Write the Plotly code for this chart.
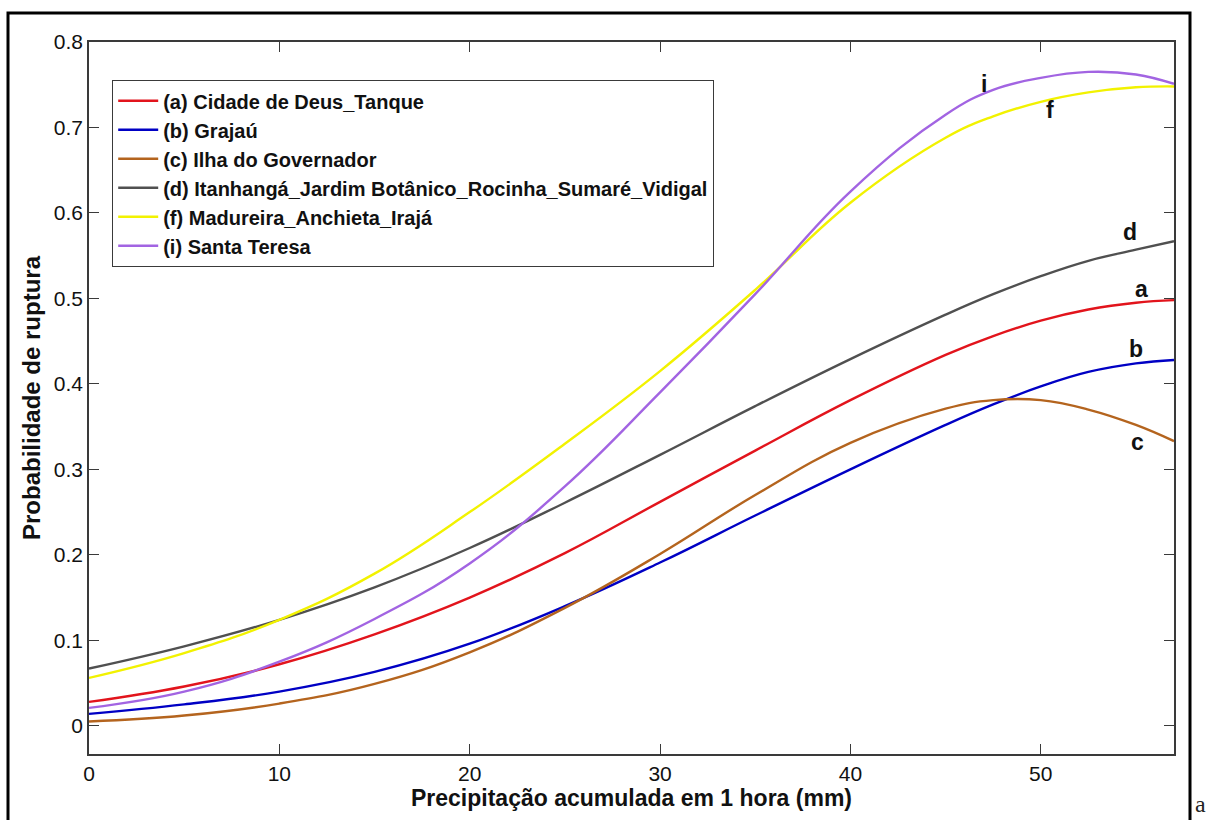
import plotly.graph_objects as go

# Precipitação acumulada (mm) at which each curve is sampled
precip = [0, 5, 10, 15, 20, 25, 30, 35, 40, 45, 47.5, 50, 52.5, 55, 57]

prob_a = [0.028, 0.046, 0.072, 0.107, 0.150, 0.202, 0.262, 0.322, 0.381, 0.434, 0.456, 0.474, 0.487, 0.495, 0.498]
prob_b = [0.014, 0.025, 0.040, 0.063, 0.096, 0.140, 0.191, 0.246, 0.300, 0.352, 0.376, 0.397, 0.414, 0.424, 0.428]
prob_c = [0.005, 0.012, 0.026, 0.049, 0.086, 0.138, 0.201, 0.270, 0.331, 0.371, 0.381, 0.381, 0.370, 0.352, 0.333]
prob_d = [0.067, 0.093, 0.124, 0.162, 0.208, 0.261, 0.317, 0.374, 0.429, 0.481, 0.505, 0.526, 0.544, 0.557, 0.567]
prob_f = [0.056, 0.085, 0.124, 0.178, 0.250, 0.330, 0.415, 0.510, 0.612, 0.688, 0.713, 0.730, 0.741, 0.747, 0.748]
prob_i = [0.021, 0.040, 0.075, 0.125, 0.190, 0.280, 0.390, 0.505, 0.625, 0.715, 0.744, 0.758, 0.765, 0.762, 0.751]

series_names = [
    "(a) Cidade de Deus_Tanque",
    "(b) Grajaú",
    "(c) Ilha do Governador",
    "(d) Itanhangá_Jardim Botânico_Rocinha_Sumaré_Vidigal",
    "(f) Madureira_Anchieta_Irajá",
    "(i) Santa Teresa",
]
series_values = [prob_a, prob_b, prob_c, prob_d, prob_f, prob_i]
series_colors = ["#e2141c", "#0000c4", "#b4641e", "#505050", "#f2f200", "#a264e2"]

# curve tags placed next to the right-hand end of each line
tag_text = ["i", "f", "d", "a", "b", "c"]
tag_x = [47.0, 50.5, 54.7, 55.3, 55.0, 55.1]
tag_y = [0.751, 0.720, 0.578, 0.511, 0.441, 0.332]

x_ticks = [0, 10, 20, 30, 40, 50]
y_ticks = [0, 0.1, 0.2, 0.3, 0.4, 0.5, 0.6, 0.7, 0.8]
y_tick_text = ["0", "0.1", "0.2", "0.3", "0.4", "0.5", "0.6", "0.7", "0.8"]

W, H = 1208, 820
L, R, T, B = 89, 34, 42, 66

fig = go.Figure()
for name, vals, col in zip(series_names, series_values, series_colors):
    fig.add_trace(go.Scatter(
        x=precip, y=vals, name=name, mode="lines",
        line=dict(color=col, width=2.4, shape="spline", smoothing=1.2),
    ))

for t, tx, ty in zip(tag_text, tag_x, tag_y):
    fig.add_annotation(
        x=tx, y=ty, xref="x", yref="y", text=t, showarrow=False,
        font=dict(family="Liberation Sans, Arial, sans-serif", size=23, color="#111111", weight="bold"),
    )

pw, ph = W - L - R, H - T - B


def px_x(p):
    return (p - L) / pw


def px_y(p):
    return (H - B - p) / ph


# outer frame around the figure
fig.add_shape(type="rect", xref="paper", yref="paper",
              x0=px_x(8), x1=px_x(1190), y0=px_y(830), y1=px_y(13),
              line=dict(color="black", width=3), fillcolor="rgba(0,0,0,0)", layer="above")

fig.add_annotation(
    x=px_x(1193), y=px_y(819), xref="paper", yref="paper", text="a",
    showarrow=False, xanchor="left", yanchor="bottom",
    font=dict(family="Liberation Serif, Times New Roman, serif", size=24, color="#222222"),
)

axis_common = dict(
    showline=True, linecolor="#3a3a3a", linewidth=1.5, mirror="ticks",
    ticks="inside", ticklen=10, tickwidth=1.2, tickcolor="#3a3a3a",
    showgrid=False, zeroline=False,
    tickfont=dict(family="Liberation Sans, Arial, sans-serif", size=21, color="#111111"),
)

fig.update_layout(
    width=W, height=H,
    margin=dict(l=L, r=R, t=T, b=B),
    paper_bgcolor="white", plot_bgcolor="white",
    xaxis=dict(
        range=[0, 57], tickvals=x_ticks,
        title=dict(text="Precipitação acumulada em 1 hora (mm)", standoff=3,
                   font=dict(family="Liberation Sans, Arial, sans-serif", size=23, color="#111111", weight="bold")),
        **axis_common,
    ),
    yaxis=dict(
        range=[-0.033, 0.8], tickvals=y_ticks, ticktext=y_tick_text,
        title=dict(text="Probabilidade de ruptura", standoff=6,
                   font=dict(family="Liberation Sans, Arial, sans-serif", size=24, color="#111111", weight="bold")),
        **axis_common,
    ),
    legend=dict(
        x=px_x(112), y=px_y(80), xanchor="left", yanchor="top",
        bgcolor="white", bordercolor="#3a3a3a", borderwidth=1.2,
        font=dict(family="Liberation Sans, Arial, sans-serif", size=20, color="#111111", weight="bold"),
        tracegroupgap=0, itemwidth=40,
    ),
    showlegend=True,
)

fig.write_html("out.html")
